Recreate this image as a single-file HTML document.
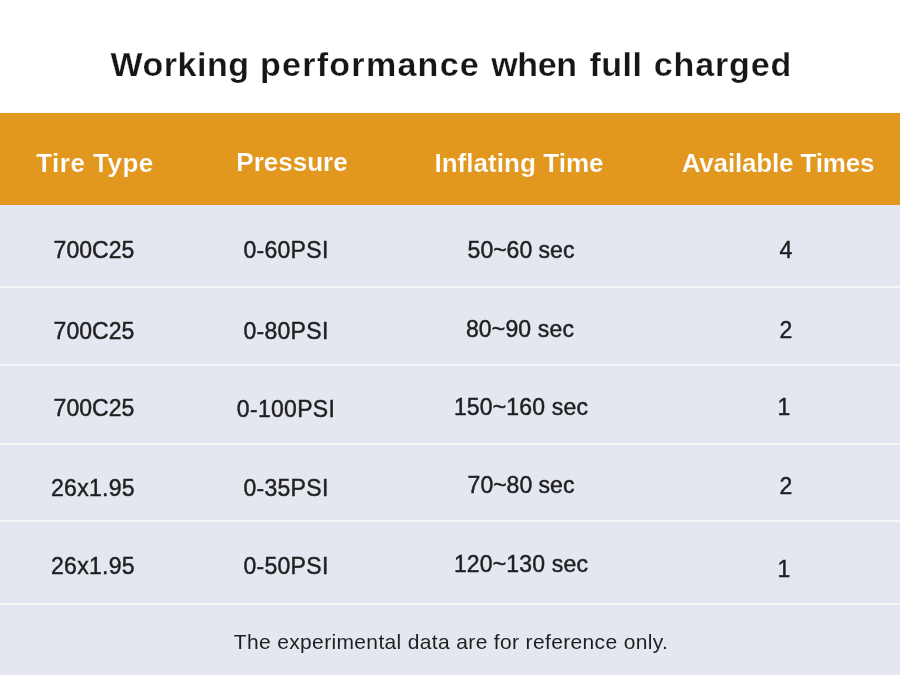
<!DOCTYPE html>
<html lang="en"><head><meta charset="utf-8"><title>Working performance when full charged</title>
<style>
html,body{margin:0;padding:0;background:#fff}
body{width:900px;height:675px;position:relative;overflow:hidden;font-family:"Liberation Sans",sans-serif}
.band{position:absolute;left:0;width:900px}
.grp{margin:0;padding:0;font-size:0;line-height:0}
.t{position:absolute;display:block;white-space:nowrap;text-align:center;width:900px;margin:0;will-change:transform}
</style></head><body>
<div class="band" style="top:113px;height:92px;background:#e2971f"></div>
<div class="band" style="top:205px;height:470px;background:#e4e7f0"></div>
<div class="band" style="top:286px;height:2px;background:#f7f7f7"></div>
<div class="band" style="top:364px;height:2px;background:#f7f7f7"></div>
<div class="band" style="top:443px;height:2px;background:#f7f7f7"></div>
<div class="band" style="top:520px;height:2px;background:#f7f7f7"></div>
<div class="band" style="top:603px;height:2px;background:#f7f7f7"></div>
<h1 class="grp">
<span class="t" style="left:-270.20px;top:44.90px;font:700 34px 'Liberation Sans', sans-serif;letter-spacing:0.53px;-webkit-text-stroke:0.25px #ffffff;color:#161616">Working </span>
<span class="t" style="left:-79.80px;top:44.90px;font:700 34px 'Liberation Sans', sans-serif;letter-spacing:1.29px;-webkit-text-stroke:0.25px #ffffff;color:#161616">performance </span>
<span class="t" style="left:84.10px;top:44.90px;font:700 34px 'Liberation Sans', sans-serif;letter-spacing:-0.37px;-webkit-text-stroke:0.25px #ffffff;color:#161616">when </span>
<span class="t" style="left:165.60px;top:44.90px;font:700 34px 'Liberation Sans', sans-serif;letter-spacing:0.45px;-webkit-text-stroke:0.25px #ffffff;color:#161616">full </span>
<span class="t" style="left:272.90px;top:44.90px;font:700 34px 'Liberation Sans', sans-serif;letter-spacing:0.9px;-webkit-text-stroke:0.25px #ffffff;color:#161616">charged</span>
</h1>
<div class="grp thead">
<div class="t" style="left:-354.80px;top:147.60px;font:700 26px 'Liberation Sans', sans-serif;letter-spacing:0.49px;-webkit-text-stroke:0.2px #e2971f;color:#ffffff">Tire Type</div>
<div class="t" style="left:-157.60px;top:146.60px;font:700 26px 'Liberation Sans', sans-serif;letter-spacing:0.0px;-webkit-text-stroke:0.2px #e2971f;color:#ffffff">Pressure</div>
<div class="t" style="left:68.80px;top:147.60px;font:700 26px 'Liberation Sans', sans-serif;letter-spacing:0.05px;-webkit-text-stroke:0.2px #e2971f;color:#ffffff">Inflating Time</div>
<div class="t" style="left:328.20px;top:147.60px;font:700 26px 'Liberation Sans', sans-serif;letter-spacing:-0.16px;-webkit-text-stroke:0.2px #e2971f;color:#ffffff">Available Times</div>
</div>
<div class="grp tbody">
<div class="t" style="left:-356.50px;top:237.10px;font:400 23px 'Liberation Sans', sans-serif;letter-spacing:0.06px;-webkit-text-stroke:0.45px #1f1f1f;color:#1f1f1f">700C25</div>
<div class="t" style="left:-163.80px;top:236.50px;font:400 23px 'Liberation Sans', sans-serif;letter-spacing:0.3px;-webkit-text-stroke:0.45px #1f1f1f;color:#1f1f1f">0-60PSI</div>
<div class="t" style="left:70.50px;top:237.10px;font:400 23px 'Liberation Sans', sans-serif;letter-spacing:0.0px;-webkit-text-stroke:0.45px #1f1f1f;color:#1f1f1f">50~60 sec</div>
<div class="t" style="left:336.20px;top:236.50px;font:400 23px 'Liberation Sans', sans-serif;letter-spacing:0.3px;-webkit-text-stroke:0.45px #1f1f1f;color:#1f1f1f">4</div>
<div class="t" style="left:-356.50px;top:318.10px;font:400 23px 'Liberation Sans', sans-serif;letter-spacing:0.06px;-webkit-text-stroke:0.45px #1f1f1f;color:#1f1f1f">700C25</div>
<div class="t" style="left:-163.80px;top:317.90px;font:400 23px 'Liberation Sans', sans-serif;letter-spacing:0.3px;-webkit-text-stroke:0.45px #1f1f1f;color:#1f1f1f">0-80PSI</div>
<div class="t" style="left:70.30px;top:316.30px;font:400 23px 'Liberation Sans', sans-serif;letter-spacing:0.15px;-webkit-text-stroke:0.45px #1f1f1f;color:#1f1f1f">80~90 sec</div>
<div class="t" style="left:336.00px;top:316.50px;font:400 23px 'Liberation Sans', sans-serif;letter-spacing:0.3px;-webkit-text-stroke:0.45px #1f1f1f;color:#1f1f1f">2</div>
<div class="t" style="left:-356.50px;top:395.10px;font:400 23px 'Liberation Sans', sans-serif;letter-spacing:0.06px;-webkit-text-stroke:0.45px #1f1f1f;color:#1f1f1f">700C25</div>
<div class="t" style="left:-164.20px;top:395.50px;font:400 23px 'Liberation Sans', sans-serif;letter-spacing:0.3px;-webkit-text-stroke:0.45px #1f1f1f;color:#1f1f1f">0-100PSI</div>
<div class="t" style="left:70.60px;top:393.70px;font:400 23px 'Liberation Sans', sans-serif;letter-spacing:0.17px;-webkit-text-stroke:0.45px #1f1f1f;color:#1f1f1f">150~160 sec</div>
<div class="t" style="left:334.40px;top:393.50px;font:400 23px 'Liberation Sans', sans-serif;letter-spacing:0.3px;-webkit-text-stroke:0.45px #1f1f1f;color:#1f1f1f">1</div>
<div class="t" style="left:-356.70px;top:474.90px;font:400 23px 'Liberation Sans', sans-serif;letter-spacing:0.3px;-webkit-text-stroke:0.45px #1f1f1f;color:#1f1f1f">26x1.95</div>
<div class="t" style="left:-163.80px;top:474.90px;font:400 23px 'Liberation Sans', sans-serif;letter-spacing:0.3px;-webkit-text-stroke:0.45px #1f1f1f;color:#1f1f1f">0-35PSI</div>
<div class="t" style="left:70.50px;top:472.10px;font:400 23px 'Liberation Sans', sans-serif;letter-spacing:0.0px;-webkit-text-stroke:0.45px #1f1f1f;color:#1f1f1f">70~80 sec</div>
<div class="t" style="left:336.00px;top:472.50px;font:400 23px 'Liberation Sans', sans-serif;letter-spacing:0.3px;-webkit-text-stroke:0.45px #1f1f1f;color:#1f1f1f">2</div>
<div class="t" style="left:-356.70px;top:552.90px;font:400 23px 'Liberation Sans', sans-serif;letter-spacing:0.3px;-webkit-text-stroke:0.45px #1f1f1f;color:#1f1f1f">26x1.95</div>
<div class="t" style="left:-163.80px;top:552.90px;font:400 23px 'Liberation Sans', sans-serif;letter-spacing:0.3px;-webkit-text-stroke:0.45px #1f1f1f;color:#1f1f1f">0-50PSI</div>
<div class="t" style="left:70.60px;top:550.70px;font:400 23px 'Liberation Sans', sans-serif;letter-spacing:0.17px;-webkit-text-stroke:0.45px #1f1f1f;color:#1f1f1f">120~130 sec</div>
<div class="t" style="left:334.40px;top:555.70px;font:400 23px 'Liberation Sans', sans-serif;letter-spacing:0.3px;-webkit-text-stroke:0.45px #1f1f1f;color:#1f1f1f">1</div>
</div>
<p class="grp note">
<span class="t" style="left:1.00px;top:630.00px;font:400 21px 'Liberation Sans', sans-serif;letter-spacing:0.35px;color:#1f1f1f">The experimental data are for reference only.</span>
</p>
</body></html>
